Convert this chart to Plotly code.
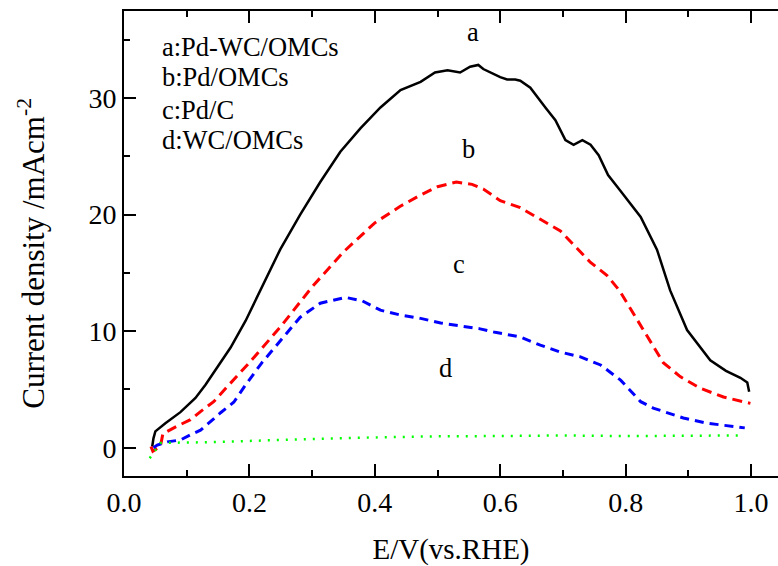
import plotly.graph_objects as go

# Curve a: Pd-WC/OMCs (black solid)
E_a = [0.045, 0.047, 0.050, 0.066, 0.090, 0.114, 0.130, 0.146, 0.170, 0.194, 0.217, 0.249,
       0.281, 0.313, 0.345, 0.377, 0.409, 0.441, 0.473, 0.496, 0.516, 0.536, 0.552, 0.565,
       0.573, 0.584, 0.600, 0.611, 0.624, 0.632, 0.648, 0.672, 0.688, 0.704, 0.717, 0.731,
       0.744, 0.757, 0.772, 0.791, 0.824, 0.850, 0.871, 0.898, 0.935, 0.960, 0.983, 0.994, 0.997]
J_a = [0.1, 0.8, 1.4, 2.1, 3.05, 4.27, 5.4, 6.7, 8.6, 10.9, 13.5, 17.0,
       20.0, 22.8, 25.4, 27.4, 29.2, 30.7, 31.4, 32.2, 32.4, 32.2, 32.7, 32.85,
       32.5, 32.2, 31.8, 31.6, 31.6, 31.5, 30.9, 29.2, 28.1, 26.4, 26.0, 26.4,
       26.0, 25.1, 23.4, 22.1, 19.8, 17.0, 13.5, 10.1, 7.5, 6.6, 6.0, 5.6, 4.8]

# Curve b: Pd/OMCs (red dashed)
E_b = [0.043, 0.046, 0.058, 0.062, 0.085, 0.106, 0.122, 0.143, 0.164, 0.200, 0.250, 0.300,
       0.350, 0.400, 0.440, 0.470, 0.500, 0.530, 0.555, 0.573, 0.600, 0.632, 0.664, 0.696,
       0.744, 0.770, 0.790, 0.816, 0.839, 0.860, 0.887, 0.919, 0.956, 0.999]
J_b = [0.1, -0.3, 0.1, 1.2, 1.86, 2.4, 3.1, 3.95, 5.2, 7.3, 10.4, 13.8,
       16.8, 19.3, 20.7, 21.6, 22.4, 22.8, 22.6, 22.2, 21.2, 20.6, 19.6, 18.6,
       15.9, 14.8, 13.5, 11.2, 9.2, 7.3, 6.1, 5.1, 4.35, 3.8]

# Curve c: Pd/C (blue dashed)
E_c = [0.047, 0.053, 0.069, 0.090, 0.106, 0.122, 0.135, 0.154, 0.175, 0.194, 0.220, 0.250,
       0.281, 0.313, 0.353, 0.380, 0.409, 0.440, 0.473, 0.505, 0.536, 0.568, 0.592, 0.632,
       0.664, 0.696, 0.728, 0.760, 0.792, 0.824, 0.844, 0.866, 0.892, 0.930, 0.962, 0.990]
J_c = [0.0, 0.23, 0.5, 0.66, 1.1, 1.5, 2.1, 3.0, 3.9, 5.4, 7.3, 9.2,
       11.2, 12.4, 12.9, 12.6, 11.8, 11.4, 11.1, 10.7, 10.45, 10.2, 9.9, 9.5,
       8.8, 8.2, 7.8, 7.1, 5.8, 3.95, 3.4, 3.0, 2.55, 2.1, 1.86, 1.7]

# Curve d: WC/OMCs (green dotted)
E_d = [0.041, 0.058, 0.100, 0.128, 0.200, 0.238, 0.300, 0.400, 0.445, 0.500, 0.600, 0.653,
       0.700, 0.800, 0.900, 0.990]
J_d = [-0.9, 0.4, 0.45, 0.46, 0.58, 0.66, 0.75, 0.88, 0.95, 0.98, 1.0, 1.03,
       1.05, 1.0, 1.02, 1.05]

legend_lines = ["a:Pd-WC/OMCs", "b:Pd/OMCs", "c:Pd/C", "d:WC/OMCs"]
legend_y = [34.4, 31.8, 29.0, 26.4]
curve_labels = ["a", "b", "c", "d"]
label_x = [0.557, 0.549, 0.534, 0.512]
label_y = [35.7, 25.6, 15.8, 6.8]

FONT = "Liberation Serif"

fig = go.Figure()
fig.add_trace(go.Scatter(x=E_a, y=J_a, mode="lines", line=dict(color="#000000", width=2.5)))
fig.add_trace(go.Scatter(x=E_b, y=J_b, mode="lines", line=dict(color="#ff0000", width=3, dash="10px,6px")))
fig.add_trace(go.Scatter(x=E_c, y=J_c, mode="lines", line=dict(color="#0000ff", width=3, dash="9px,6px")))
fig.add_trace(go.Scatter(x=E_d, y=J_d, mode="lines", line=dict(color="#00ff00", width=2.5, dash="2px,7px")))

annotations = []
for t, yy in zip(legend_lines, legend_y):
    annotations.append(dict(x=0.058, y=yy, xref="x", yref="y", text=t, showarrow=False,
                            xanchor="left", yanchor="middle", font=dict(size=26.5, family=FONT, color="black")))
for t, xx, yy in zip(curve_labels, label_x, label_y):
    annotations.append(dict(x=xx, y=yy, xref="x", yref="y", text=t, showarrow=False,
                            xanchor="center", yanchor="middle", font=dict(size=26.5, family=FONT, color="black")))
# y-axis title
annotations.append(dict(x=-0.1407, y=0.48, xref="paper", yref="paper",
                        text="Current density /mAcm<sup>-2</sup>", textangle=-90, showarrow=False,
                        xanchor="center", yanchor="middle", font=dict(size=31, family=FONT, color="black")))

fig.update_layout(
    width=778, height=566,
    margin=dict(l=124, r=0, t=11, b=90),
    plot_bgcolor="white", paper_bgcolor="white",
    showlegend=False,
    font=dict(family=FONT, size=28, color="black"),
    annotations=annotations,
    xaxis=dict(
        range=[0, 1.043], tick0=0, dtick=0.2, tickformat=".1f",
        ticks="inside", ticklen=12, tickwidth=2, tickcolor="black",
        showline=True, linewidth=2, linecolor="black", mirror="ticks",
        showgrid=False, zeroline=False,
        minor=dict(dtick=0.1, ticks="inside", ticklen=6, tickwidth=2, tickcolor="black"),
        tickfont=dict(size=28, family=FONT),
        title=dict(text="E/V(vs.RHE)", font=dict(size=29, family=FONT), standoff=24),
    ),
    yaxis=dict(
        range=[-2.43, 37.48], tick0=0, dtick=10,
        ticks="inside", ticklen=12, tickwidth=2, tickcolor="black",
        showline=True, linewidth=2, linecolor="black",
        showgrid=False, zeroline=False,
        minor=dict(dtick=5, ticks="inside", ticklen=6, tickwidth=2, tickcolor="black"),
        tickfont=dict(size=28, family=FONT),
    ),
)

fig.write_html("out.html")
